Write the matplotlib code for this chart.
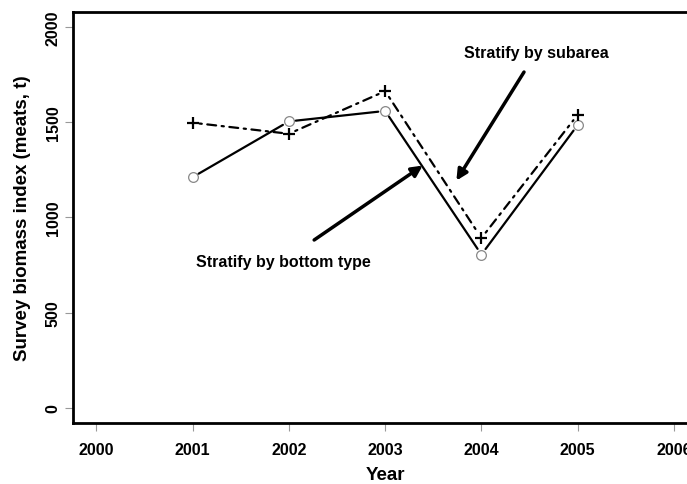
import matplotlib
matplotlib.use("Agg")
import matplotlib.pyplot as plt

matplotlib.rcParams['font.family'] = ['Liberation Sans', 'DejaVu Sans']
matplotlib.rcParams['font.weight'] = 'bold'

years = [2001, 2002, 2003, 2004, 2005]
bottom_type = [1212, 1505, 1560, 805, 1486]
subarea = [1498, 1440, 1664, 892, 1540]

x_ticks = [2000, 2001, 2002, 2003, 2004, 2005, 2006]
y_ticks = [0, 500, 1000, 1500, 2000]

fig = plt.figure(figsize=(6.87, 4.85), dpi=100)
ax = fig.add_axes([0.1067, 0.1258, 0.9079, 0.8474])
ax.set_xlim(1999.76, 2006.24)
ax.set_ylim(-80, 2080)

# lines with gaps around the points (like R type="b")
def gapped(xs, ys, ls):
    for i in range(len(xs) - 1):
        ax.annotate('', xy=(xs[i + 1], ys[i + 1]), xytext=(xs[i], ys[i]),
                    arrowprops=dict(arrowstyle='-', lw=1.6, color='black',
                                    linestyle=ls, shrinkA=5, shrinkB=5))

gapped(years, bottom_type, '-')
gapped(years, subarea, (0, (1, 2.5, 4, 2.5)))

ax.plot(years, bottom_type, 'o', ls='none', ms=7, mfc='white', mec='#888888', mew=0.9)
ax.plot(years, subarea, '+', ls='none', ms=8, mec='black', mew=1.6)

ax.annotate('Stratify by subarea', xy=(2003.74, 1194), xytext=(2004.57, 1868),
            ha='center', va='center', fontsize=11.5, fontweight='bold',
            arrowprops=dict(arrowstyle='-|>', lw=2.5, color='black',
                            mutation_scale=16, shrinkA=8, shrinkB=0))
ax.annotate('Stratify by bottom type', xy=(2003.39, 1273), xytext=(2001.94, 770),
            ha='center', va='center', fontsize=11.5, fontweight='bold',
            arrowprops=dict(arrowstyle='-|>', lw=2.5, color='black',
                            mutation_scale=16, shrinkA=14, shrinkB=0))

ax.set_xticks(x_ticks)
ax.set_xticklabels([str(v) for v in x_ticks], fontsize=11.5, fontweight='bold')
ax.set_yticks(y_ticks)
ax.set_yticklabels([str(v) for v in y_ticks], fontsize=11.5, fontweight='bold',
                   rotation=90, va='center')
ax.tick_params(direction='out', length=6, width=0.8, color='#999999')
ax.tick_params(axis='x', pad=8)
ax.tick_params(axis='y', pad=3)

ax.set_xlabel('Year', fontsize=13.5, fontweight='bold', labelpad=6)
ax.set_ylabel('Survey biomass index (meats, t)', fontsize=13.5, fontweight='bold', labelpad=11)

for s in ax.spines.values():
    s.set_linewidth(2)

fig.savefig('out.png', dpi=100)
